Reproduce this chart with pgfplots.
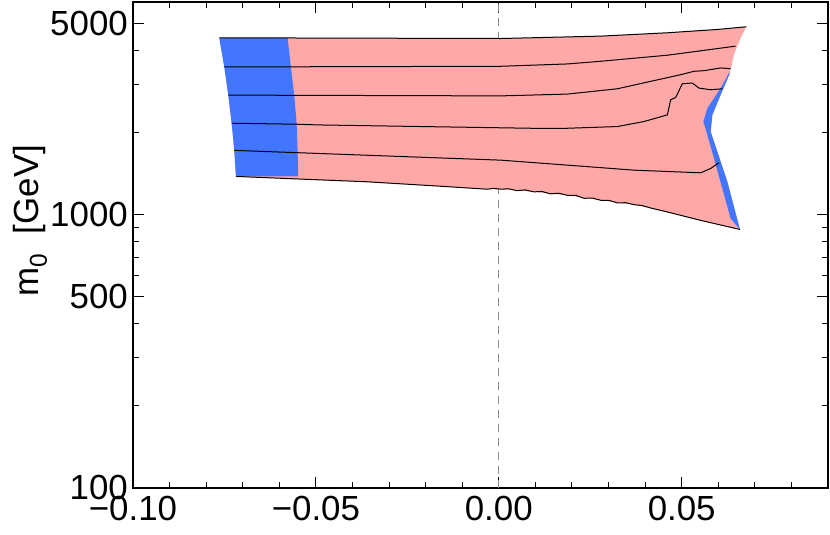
\documentclass[border=0pt]{standalone}
\usepackage{fontspec}
\setmainfont{Liberation Sans}
\usepackage{pgfplots}
\pgfplotsset{compat=1.18}

\definecolor{pinkfill}{RGB}{255,168,168}
\definecolor{bluefill}{RGB}{66,118,255}

\begin{document}
\begin{tikzpicture}[x=1bp,y=1bp]
\useasboundingbox (-133bp,-47bp) rectangle (697bp,488bp);
\begin{axis}[
    at={(0,0)}, anchor=south west,
    scale only axis,
    width=695bp, height=486bp,
    xmin=-0.10, xmax=0.09,
    ymode=log, ymin=100, ymax=6000,
    axis line style={line width=1.3bp},
    tick align=inside,
    tick style={line width=1bp, black},
    major tick length=11bp,
    minor tick length=6bp,
    xtick={-0.1,-0.05,0,0.05},
    xticklabels={−0.10,−0.05,0.00,0.05},
    minor xtick={-0.09,-0.08,-0.07,-0.06,-0.04,-0.03,-0.02,-0.01,0.01,0.02,0.03,0.04,0.06,0.07,0.08},
    ytick={100,500,1000,5000},
    yticklabels={100,500,1000,5000},
    minor ytick={200,300,400,600,700,800,900,2000,3000,4000},
    tick label style={font=\fontsize{35}{40}\selectfont, inner sep=1bp},
    xticklabel style={yshift=-7bp},
    yticklabel style={xshift=-4bp},
    ylabel={m\textsubscript{0}\ \ [GeV]},
    ylabel style={font=\fontsize{35}{40}\selectfont, at={(axis description cs:-0.148,0.55)}, anchor=center},
    clip=true,
]
% dashed zero line
\addplot[draw={rgb,255:red,140;green,140;blue,140}, line width=1.2bp, dash pattern=on 8bp off 6bp] coordinates {(0,100) (0,6000)};

% pink region
\addplot[fill=pinkfill, draw=none] coordinates {
(-0.07642,4437) (0.00055,4411) (0.02787,4501) (0.04609,4629) (0.05975,4760) (0.06768,4870)
(0.06612,4437) (0.06429,3852) (0.06339,3392) (0.06320,3299) (0.06066,2745) (0.05839,2318)
(0.05792,2014) (0.05975,1700) (0.06249,1319) (0.06593,883)
(0.05519,953) (0.04609,1023) (0.03697,1088) (0.02787,1129) (0.01877,1177) (0.00956,1212)
(0.00055,1240) (-0.00309,1239) (-0.01311,1264) (-0.03587,1319) (-0.07186,1380)
(-0.07232,1719) (-0.07303,2161) (-0.07396,2738) (-0.07505,3471) (-0.07642,4437)
};

% blue region, left
\addplot[fill=bluefill, draw=none] coordinates {
(-0.07642,4437) (-0.05773,4437) (-0.05683,3471) (-0.05593,2738) (-0.05527,2161)
(-0.05500,1719) (-0.05484,1380) (-0.07186,1380) (-0.07232,1719) (-0.07303,2161)
(-0.07396,2738) (-0.07505,3471) (-0.07642,4437)
};

% blue strip, right
\addplot[fill=bluefill, draw=none] coordinates {
(0.06292,3299) (0.06066,2905) (0.05702,2453) (0.05593,2192) (0.05702,1957) (0.05883,1607)
(0.06339,967) (0.06593,883) (0.06249,1319) (0.05975,1700) (0.05792,2014) (0.05839,2318)
(0.06066,2745) (0.06320,3299) (0.06292,3299)
};

% contour lines
\addplot[black, line width=1bp] coordinates {
(-0.07642,4437) (0.00055,4411) (0.02787,4501) (0.04609,4629) (0.05975,4760) (0.06768,4870)
};
\addplot[black, line width=1bp] coordinates {
(-0.07505,3471) (0.00055,3491) (0.01877,3560) (0.02787,3642) (0.04609,3832) (0.06475,4136)
};
\addplot[black, line width=1bp] coordinates {
(-0.07396,2738) (0.00055,2720) (0.01877,2762) (0.03243,2888) (0.04153,3075) (0.04973,3252)
(0.05336,3347) (0.05609,3364) (0.06066,3442) (0.06339,3421)
};
\addplot[black, line width=1bp] coordinates {
(-0.07303,2161) (-0.05500,2142) (-0.04954,2130) (0.00874,2071) (0.01877,2071) (0.03243,2101)
(0.03970,2192) (0.04609,2318) (0.04699,2632) (0.04836,2686) (0.05019,3013) (0.05292,3031)
(0.05473,2905) (0.05792,2864) (0.06112,2888)
};
\addplot[black, line width=1bp] coordinates {
(-0.07232,1719) (0.00055,1583) (0.01877,1518) (0.03697,1455) (0.05519,1423) (0.05792,1476)
(0.06019,1549)
};
% lower boundary
\addplot[black, line width=1bp] coordinates {
(-0.07186,1380) (-0.03587,1319) (-0.01311,1264) (-0.00309,1239) (-0.0015,1248) (0.00055,1240)
(0.0028,1243) (0.0050,1224) (0.0072,1232) (0.00956,1212) (0.0118,1216) (0.0141,1192)
(0.0164,1198) (0.01877,1177) (0.0211,1176) (0.0233,1148) (0.0256,1150) (0.02787,1129)
(0.0301,1128) (0.0324,1104) (0.0347,1106) (0.03697,1088) (0.0392,1080) (0.0415,1058)
(0.04609,1023) (0.05519,953) (0.06593,883)
};
\end{axis}
\end{tikzpicture}
\end{document}
